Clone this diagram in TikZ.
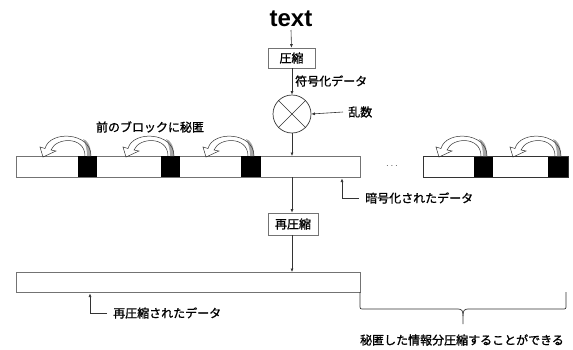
\documentclass[tikz,border=0pt]{standalone}
\usepackage{fontspec}
\newfontfamily\jp[FakeBold=1.2]{Noto Sans CJK JP}
\newfontfamily\lat{Liberation Sans}
\usetikzlibrary{arrows.meta}
\tikzset{
  lbl/.style={font=\jp\fontsize{12}{12}\selectfont, inner sep=0pt, text=black},
  bar/.style={draw=black!55, line width=0.7pt, fill=white},
  boxst/.style={draw=black!55, line width=0.7pt, fill=white, minimum width=49pt, minimum height=21pt, inner sep=0pt, font=\jp\fontsize{12}{12}\selectfont},
  arr/.style={draw=black!80, line width=0.6pt, -{Latex[length=3.5pt,width=3pt]}},
  ln/.style={draw=black!80, line width=0.6pt},
  blk/.style={fill=black}
}
\newcommand{\curvarrow}[1]{%
  \fill[black!35] (#1+13,156) .. controls (#1+13,145) and (#1+9,140) .. (#1+5,139)
     .. controls (#1+8,145) and (#1+9,150) .. (#1+9,156) -- cycle;
  \draw[black!80, line width=0.5pt]
    (#1+13,156) .. controls (#1+13,132) and (#1+-28,130) .. (#1+-33,148.5)
    -- (#1+-38,147) -- (#1+-35,157) -- (#1+-22,151) -- (#1+-27,150)
    .. controls (#1+-22,137) and (#1+7,136) .. (#1+7,156);
}
\begin{document}
\begin{tikzpicture}[x=1pt,y=-1pt]
\useasboundingbox (0,0) rectangle (573,349);
% title
\node[font=\lat\bfseries\fontsize{24}{24}\selectfont, inner sep=0pt, anchor=base] (txt) at (291,26) {text};
\coordinate (txtb) at (291,30);
% compress box
\node[boxst, minimum width=47pt, minimum height=20pt] (comp) at (291.5,58) {圧縮};
\draw[arr] (txtb) -- (comp.north);
% XOR circle
\node[draw=black!80, line width=0.7pt, circle, minimum size=38pt, inner sep=0pt] (xor) at (292,114) {};
\draw[ln] (xor.north west) -- (xor.south east);
\draw[ln] (xor.north east) -- (xor.south west);
\draw[arr] (comp.south -| xor.north) -- (xor.north);
\node[lbl, anchor=west] (encl) at (295,81) {符号化データ};
% random
\node[lbl, anchor=west] (rand) at (348,112) {乱数};
\coordinate (randa) at (343,112);
\draw[arr] (randa) -- (xor.east);
% bar 1
\draw[bar] (16,156) rectangle (360,177);
\coordinate (bar1top) at (292,156);
\coordinate (bar1bot) at (292,177);
\draw[arr] (xor.south) -- (bar1top);
\fill[blk] (78,156) rectangle (97,177);
\fill[blk] (161,156) rectangle (180,177);
\fill[blk] (241,156) rectangle (261,177);
% bar 2
\draw[bar] (423,156) rectangle (568,177);
\fill[blk] (474,156) rectangle (493,177);
\fill[blk] (548,156) rectangle (568,177);
\draw[black!80, line width=0.6pt] (423,156) rectangle (568,177);
\node[font=\fontsize{10}{10}\selectfont, inner sep=0pt, text=black!70] (dots) at (392,166) {$\cdots$};
% curved arrows
\curvarrow{78}
\curvarrow{161}
\curvarrow{241}
\curvarrow{474}
\curvarrow{548}
\node[lbl] (hide) at (150,127) {前のブロックに秘匿};
% encrypted label
\node[lbl, anchor=west] (encr) at (365,198) {暗号化されたデータ};
\coordinate (encrc) at (342,198);
\draw[ln] (encr.west) ++(-6,0) -- (encrc);
\draw[arr] (encrc) -- (342,178.5);
% recompress box
\node[boxst, minimum width=50pt, minimum height=22pt] (recomp) at (293,224) {再圧縮};
\draw[arr] (bar1bot) -- (recomp.north -| bar1bot);
% bar 3
\draw[bar] (16,272) rectangle (360,292);
\coordinate (bar3top) at (292,272);
\draw[arr] (recomp.south -| bar3top) -- (bar3top);
% recompressed label
\node[lbl, anchor=west] (recl) at (113,313) {再圧縮されたデータ};
\coordinate (reclc) at (90,313);
\draw[ln] (107,313) -- (reclc);
\draw[arr] (reclc) -- (90,293.5);
% brace
\draw[black!80, line width=0.7pt]
  (360,292) -- (360,305) .. controls (360,309) .. (364,309) -- (458,309)
  .. controls (462,309) and (463,311) .. (463,316) -- (463,324);
\draw[black!80, line width=0.7pt]
  (566,292) -- (566,305) .. controls (566,309) .. (562,309) -- (468,309)
  .. controls (464,309) and (463,311) .. (463,316);
\node[lbl] (brl) at (462,340) {秘匿した情報分圧縮することができる};
\end{tikzpicture}
\end{document}
